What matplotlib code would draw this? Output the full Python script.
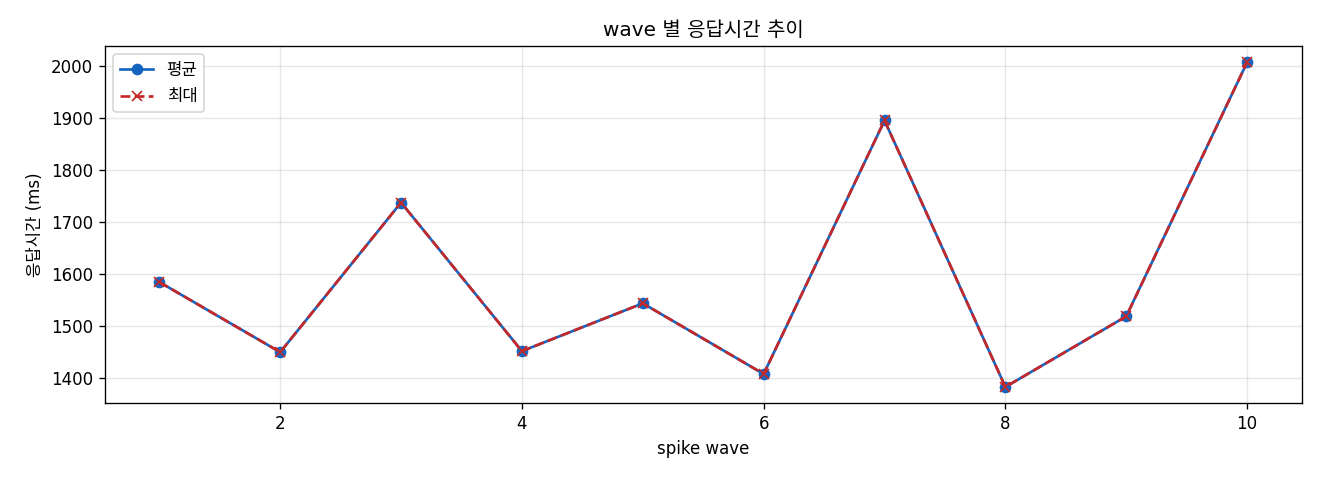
import matplotlib
matplotlib.use("Agg")
import matplotlib.pyplot as plt

plt.rcParams["font.family"] = ["DejaVu Sans", "Noto Sans CJK KR"]

waves = [1, 2, 3, 4, 5, 6, 7, 8, 9, 10]
avg_ms = [1585, 1450, 1738, 1452, 1544, 1408, 1896, 1383, 1519, 2008]
max_ms = [1585, 1450, 1738, 1452, 1544, 1408, 1896, 1383, 1519, 2008]

BLUE, RED = "#1565C0", "#C62828"

fig, ax = plt.subplots(figsize=(11, 4), dpi=120)
ax.plot(waves, avg_ms, marker="o", color=BLUE, lw=1.6, ms=6, label="평균")
ax.plot(waves, max_ms, marker="x", ls="--", color=RED, lw=1.6, ms=6, label="최대")
ax.set_title("wave 별 응답시간 추이")
ax.set_xlabel("spike wave")
ax.set_ylabel("응답시간 (ms)")
ax.grid(alpha=0.3)
ax.legend(loc="upper left")
fig.subplots_adjust(left=0.0795, right=0.986, top=0.904, bottom=0.160)
fig.savefig("out.png", dpi=120)
